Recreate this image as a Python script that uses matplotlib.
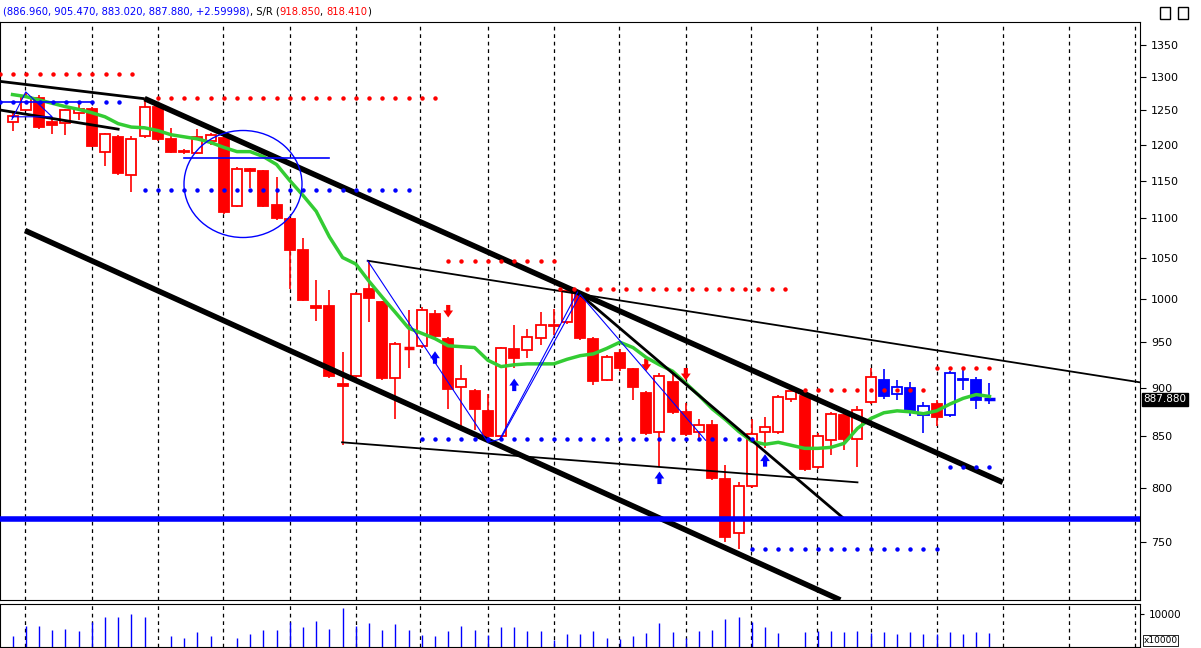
import matplotlib
matplotlib.use("Agg")
import matplotlib.pyplot as plt
from matplotlib.patches import Rectangle, Ellipse
from matplotlib.ticker import FixedLocator, NullLocator, FixedFormatter
import numpy as np

opens  = [1233,1250,1268,1232,1231,1246,1251,1190,1211,1158,1212,1254,1208,1191,1188,1205,1210,1116,1166,1163,1117,1099,1059,
          991,991,904,913,1012,996,911,944,946,982,954,901,897,876,850,942,941,955,970,973,1005,954,909,938,920,895,854,906,875,
          854,861,808,758,802,854,854,888,891,820,846,872,847,885,909,894,900,872,883,872,910,908,887]
highs  = [1245,1275,1272,1240,1252,1262,1254,1216,1213,1212,1268,1256,1223,1194,1222,1216,1212,1168,1167,1165,1155,1100,1075,
          1022,1010,939,1008,1045,998,950,987,990,987,956,925,899,894,945,970,965,985,988,1012,1008,956,936,942,922,897,916,918,884,
          868,867,822,805,868,870,893,899,893,853,875,877,881,921,920,908,906,885,887,918,921,912,905]
lows   = [1219,1248,1222,1215,1213,1236,1197,1170,1158,1135,1210,1205,1188,1186,1186,1200,1106,1114,1140,1114,1098,1012,997,
          974,911,841,911,973,909,868,921,944,955,878,860,856,845,847,921,932,947,958,971,953,903,907,918,887,851,820,873,850,
          846,807,750,744,800,838,852,885,816,818,831,836,820,883,888,887,871,853,860,870,898,878,883]
closes = [1241,1270,1225,1228,1250,1252,1198,1215,1160,1208,1254,1208,1190,1189,1211,1213,1108,1166,1163,1116,1100,1059,999,
          989,913,902,1006,1001,911,948,943,987,957,899,910,878,850,943,932,956,970,968,1009,955,907,933,921,901,853,913,875,852,
          861,809,755,802,852,859,890,897,818,850,873,847,877,912,892,901,875,881,870,916,908,887,888]
blue_idx = [66,67,68,69,71,72,73,74]
ma = [1273,1270,1265,1260,1255,1251,1246,1240,1230,1225,1224,1220,1214,1211,1208,1203,1196,1190,1190,1183,1172,1150,1130,
      1109,1076,1050,1042,1021,1002,984,966,960,954,946,945,944,930,923,925,926,926,926,931,935,937,943,950,944,933,925,918,
      905,892,878,867,855,845,842,844,841,838,838,839,843,858,868,874,876,875,873,876,883,889,893,891]
volume = [32,62,62,52,55,47,77,92,92,100,92,None,34,27,44,34,None,27,40,50,52,76,59,79,55,118,62,74,52,70,52,37,32,47,
          62,52,37,59,59,47,49,22,39,39,47,27,24,32,42,72,44,27,47,52,86,92,75,59,42,None,44,47,47,44,47,42,44,39,44,39,
          39,44,39,44,42]
price_ticks = [750,800,850,900,950,1000,1050,1100,1150,1200,1250,1300,1350]
grid_idx = [0.95,6.02,11,15.95,21,26,30.9,36,41,45.9,51,55.9,60.9,65,70,75,80,85]

# annotation geometry (index, price)
thick_lines = [([10.0,75.0],[1267,805]), ([0.95,62.7],[1084,700.5])]
medium_lines = [([-0.95,9.9],[1293,1267]), ([-0.95,8.0],[1250,1222]), ([43,62.9],[1005,772])]
thin_lines = [([26.9,85.4],[1046,906]), ([24.96,64],[844,805])]
blue_zig = [([26.9,36,36.9,42.8],[1046,844,847,1008]), ([37,43,52.5],[848,1005,846]),
            ([-0.05,1.0,3.0,-0.05],[1236,1277,1240,1240])]
red_dots = [(-0.95,10,1305),(11,32,1268),(33,41,1046),(41.5,59,1012),(60,69,898),(70,74,921)]
blue_dots = [(-0.95,9,1262),(10,30,1137),(31,56,847),(56,70,744),(71,74,820)]
down_arrows = [(33,975),(48,915),(51,905)]
up_arrows = [(32,943),(38,913),(49,818),(57,835)]

fig = plt.figure(figsize=(12.01,6.48), dpi=100)
ax = fig.add_axes([0, 48/648, 1140/1201, 578/648])
n = len(opens)
x = np.arange(n)
ax.set_yscale('log')
ax.set_ylim(700.5, 1387)
ax.set_xlim(-0.95, 85.4)
for g in grid_idx:
    ax.axvline(g, color='black', ls=(0,(3,3)), lw=0.9, zorder=0)

for i in range(n):
    col = 'blue' if i in blue_idx else 'red'
    ax.vlines(i, lows[i], highs[i], color=col, lw=1.2, zorder=3)
    lo, hi = min(opens[i], closes[i]), max(opens[i], closes[i])
    if hi - lo < 2:
        ax.hlines(closes[i], i-0.38, i+0.38, color=col, lw=2.5, zorder=4)
    else:
        up = closes[i] > opens[i]
        ax.add_patch(Rectangle((i-0.38, lo), 0.76, hi-lo, facecolor='white' if up else col,
                               edgecolor=col, lw=1.3, zorder=4))

ax.plot(x, ma, color='#33cc33', lw=2.5, zorder=5)
for xs, ys in thick_lines:
    ax.plot(xs, ys, color='black', lw=4, zorder=6, solid_capstyle='butt')
for xs, ys in medium_lines:
    ax.plot(xs, ys, color='black', lw=2, zorder=6)
for xs, ys in thin_lines:
    ax.plot(xs, ys, color='black', lw=1.3, zorder=6)
for xs, ys in blue_zig:
    ax.plot(xs, ys, color='blue', lw=0.8, zorder=6)
ax.plot([-0.95, 6.0], [1262, 1262], color='blue', lw=1.2, zorder=6)
ax.plot([13.0, 24.0], [1181, 1181], color='blue', lw=1.2, zorder=6)
ax.axhline(771, color='blue', lw=4, zorder=6)
for a, b, p in red_dots:
    xs = np.arange(a, b+0.01, 1.0)
    ax.plot(xs, [p]*len(xs), ls='none', marker='o', ms=2.2, color='red', zorder=6)
for a, b, p in blue_dots:
    xs = np.arange(a, b+0.01, 1.0)
    ax.plot(xs, [p]*len(xs), ls='none', marker='o', ms=2.2, color='blue', zorder=6)
for i, p in down_arrows:
    ax.annotate('', xy=(i, p), xytext=(0, 13), textcoords='offset points',
                arrowprops=dict(arrowstyle='simple,head_width=0.7,head_length=0.5,tail_width=0.3', color='red', lw=0))
for i, p in up_arrows:
    ax.annotate('', xy=(i, p), xytext=(0, -13), textcoords='offset points',
                arrowprops=dict(arrowstyle='simple,head_width=0.7,head_length=0.5,tail_width=0.3', color='blue', lw=0))
ax.add_patch(Ellipse((243/1140, 1-(184-22)/578), 118/1140, 107/578, transform=ax.transAxes,
                     fill=False, edgecolor='blue', lw=1, zorder=7))

ax.yaxis.tick_right()
ax.yaxis.set_major_locator(FixedLocator(price_ticks))
ax.yaxis.set_major_formatter(FixedFormatter([str(t) for t in price_ticks]))
ax.yaxis.set_minor_locator(NullLocator())
ax.tick_params(axis='y', labelsize=8, length=4, direction='out', pad=4)
ax.set_xticks([])
ax.text(1.003, np.log(888/700.5)/np.log(1387/700.5), '887.880', transform=ax.transAxes, fontsize=7.5,
        color='white', va='center', ha='left', bbox=dict(boxstyle='square,pad=0.15', fc='black', ec='black'))

vax = fig.add_axes([0, 1/648, 1140/1201, 43/648])
vax.set_xlim(-0.95, 85.4)
vax.set_ylim(0, 130)
for g in grid_idx:
    vax.axvline(g, color='black', ls=(0,(3,3)), lw=0.9, zorder=0)
for i, v in enumerate(volume):
    if v is not None:
        vax.vlines(i, 0, v, color='blue', lw=1)
vax.yaxis.tick_right()
vax.set_yticks([100])
vax.set_yticklabels(['10000'])
vax.tick_params(axis='y', labelsize=7.5, length=3)
vax.set_xticks([])
vax.text(1.003, 0.15, 'x10000', transform=vax.transAxes, fontsize=6.5, ha='left', va='center',
         bbox=dict(boxstyle='square,pad=0.1', fc='white', ec='black', lw=0.6))

# title: chained colored segments
segments = [('(886.960, 905.470, 883.020, 887.880, +2.59998)', 'blue'), (', S/R (', 'black'),
            ('918.850', 'red'), (', ', 'black'), ('818.410', 'red'), (')', 'black')]
renderer = fig.canvas.get_renderer()
xpos = 3
for s, c in segments:
    t = fig.text(xpos/1201, 1-12/648, s, color=c, fontsize=7.2, va='center')
    xpos += t.get_window_extent(renderer).width
for xp in (1160, 1178):
    fig.patches.append(Rectangle((xp/1201, 1-19/648), 10/1201, 12/648, transform=fig.transFigure,
                                 fill=False, edgecolor='black', lw=1))
fig.savefig('out.png', dpi=100)
